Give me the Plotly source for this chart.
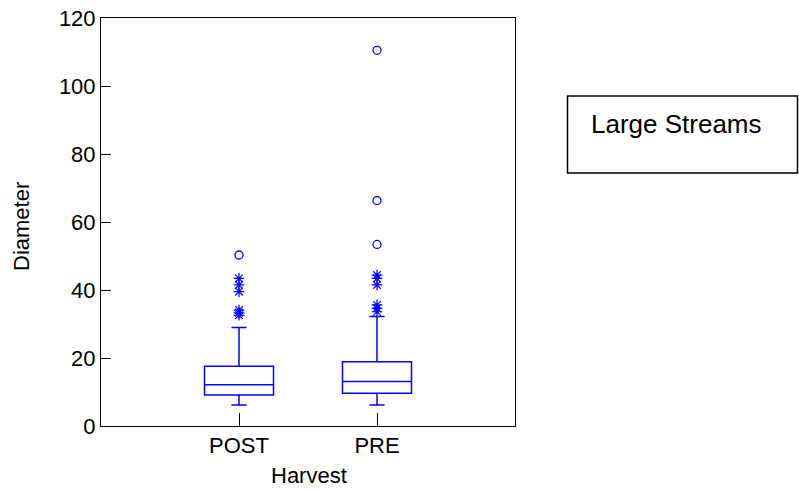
import plotly.graph_objects as go

categories = ["POST", "PRE"]
q1 = [9.1, 9.6]
median = [12.1, 13.1]
q3 = [17.6, 18.9]
lower_fence = [6.2, 6.2]
upper_fence = [29.0, 32.2]

# far outliers (circles) and near outliers (asterisks)
post_far = [50.3]
post_near = [43.4, 41.5, 39.5, 34.1, 33.3, 32.6]
pre_far = [110.5, 66.3, 53.4]
pre_near = [44.4, 43.4, 41.5, 35.6, 34.6, 33.6]

y_ticks = [0, 20, 40, 60, 80, 100, 120]

BLUE = "#0000FF"
FONT = "Liberation Sans, Arial, sans-serif"

fig = go.Figure()
fig.add_trace(go.Box(
    x=categories, q1=q1, median=median, q3=q3,
    lowerfence=lower_fence, upperfence=upper_fence,
    boxpoints=False, width=0.5, whiskerwidth=0.22,
    line=dict(color=BLUE, width=1.5), fillcolor="rgba(0,0,0,0)",
    showlegend=False, hoverinfo="skip",
))
fig.add_trace(go.Scatter(
    x=["POST"] * len(post_near) + ["PRE"] * len(pre_near),
    y=post_near + pre_near, mode="markers",
    marker=dict(symbol="asterisk-open", size=9, color=BLUE, line=dict(color=BLUE, width=1.2)),
    showlegend=False,
))
fig.add_trace(go.Scatter(
    x=["POST"] * len(post_far) + ["PRE"] * len(pre_far),
    y=post_far + pre_far, mode="markers",
    marker=dict(symbol="circle-open", size=8, color=BLUE, line=dict(color=BLUE, width=1.3)),
    showlegend=False,
))

fig.add_shape(type="rect", xref="paper", yref="paper",
              x0=(567.5 - 101) / 414, x1=(797.5 - 101) / 414,
              y0=(426 - 173) / 408, y1=(426 - 96) / 408,
              line=dict(color="black", width=1.5))
fig.add_annotation(xref="paper", yref="paper", x=(589 - 101) / 414, y=(426 - 124) / 408,
                   xanchor="left", yanchor="middle", showarrow=False,
                   text="Large Streams", font=dict(family=FONT, size=26, color="black"))

# axis titles
fig.add_annotation(xref="paper", yref="paper", x=(309 - 101) / 414, y=(426 - 475) / 408,
                   xanchor="center", yanchor="middle", showarrow=False,
                   text="Harvest", font=dict(family=FONT, size=22, color="black"))
fig.add_annotation(xref="paper", yref="paper", x=(22 - 101) / 414, y=(426 - 227) / 408,
                   xanchor="center", yanchor="middle", showarrow=False, textangle=-90,
                   text="Diameter", font=dict(family=FONT, size=22, color="black"))

fig.update_layout(
    width=799, height=490,
    margin=dict(l=101, r=284, t=18, b=64),
    plot_bgcolor="white", paper_bgcolor="white",
    font=dict(family=FONT, size=22, color="black"),
    xaxis=dict(
        type="category", categoryorder="array", categoryarray=categories,
        range=[-1, 2], showgrid=False, zeroline=False, automargin=False,
        showline=True, linecolor="black", linewidth=1, mirror=True,
        ticks="inside", ticklen=13, tickcolor="black",
    ),
    yaxis=dict(
        range=[0, 120], tickvals=y_ticks, showgrid=False, zeroline=False, automargin=False,
        showline=True, linecolor="black", linewidth=1, mirror=True,
        ticks="inside", ticklen=10, tickcolor="black",
    ),
)

fig.write_html("out.html")
